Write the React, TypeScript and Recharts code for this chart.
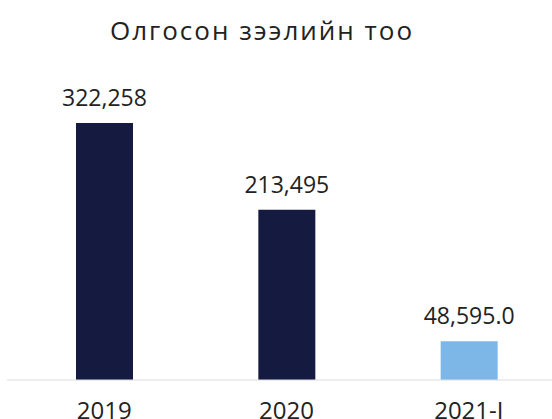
import React from "react";
import { BarChart, Bar, XAxis, YAxis, Cell, LabelList } from "recharts";

const categories = ["2019", "2020", "2021-I"];
const loanCounts = [322258, 213495, 48595.0];
const barColors = ["#151a40", "#151a40", "#7db7e8"];
const valueLabels = ["322,258", "213,495", "48,595.0"];

const data = categories.map((name, i) => ({
  name,
  value: loanCounts[i],
  label: valueLabels[i],
}));

const font = "'Open Sans', sans-serif";

const App: React.FC = () => {
  return (
    <div
      style={{
        position: "absolute",
        left: 0,
        top: 0,
        width: 552,
        height: 419,
        overflow: "hidden",
        background: "#fff",
        fontFamily: font,
      }}
    >
      <div
        style={{
          position: "absolute",
          left: 0,
          top: 17,
          width: 524,
          textAlign: "center",
          fontSize: 26,
          lineHeight: "26px",
          letterSpacing: 2,
          color: "#222",
          zIndex: 1,
        }}
      >
        Олгосон зээлийн тоо
      </div>
      <BarChart
        width={560}
        height={419}
        data={data}
        margin={{ top: 101, right: 0, bottom: 0, left: 7 }}
      >
        <XAxis
          dataKey="name"
          padding={{ left: 6, right: 0 }}
          axisLine={{ stroke: "#dcdcdc", strokeWidth: 1 }}
          tickLine={false}
          tickSize={0}
          tickMargin={22}
          height={39}
          tick={{ fill: "#222", fontSize: 24, fontFamily: font }}
          interval={0}
        />
        <YAxis hide domain={[0, 350000]} />
        <Bar dataKey="value" barSize={57} isAnimationActive={false}>
          {data.map((d, i) => (
            <Cell key={d.name} fill={barColors[i]} />
          ))}
          <LabelList
            dataKey="label"
            position="top"
            offset={17}
            style={{ fill: "#222", fontSize: 23, fontFamily: font }}
          />
        </Bar>
      </BarChart>
    </div>
  );
};

export default App;
